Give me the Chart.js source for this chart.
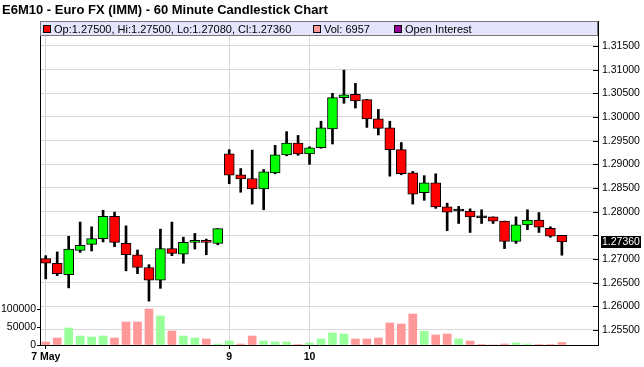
<!DOCTYPE html>
<html>
<head>
<meta charset="utf-8">
<script src="https://cdn.jsdelivr.net/npm/chart.js@4.4.1/dist/chart.umd.min.js"></script>
<style>
  html, body { margin: 0; padding: 0; background: #fff; }
  #wrap { width: 644px; height: 367px; }
</style>
</head>
<body>
<div id="wrap"><canvas id="chart" width="644" height="367"></canvas></div>
<script>
// 60 minute bars, 7 May .. 10 May 2010
const opens = [1.2701, 1.2691, 1.2667, 1.2718, 1.2731, 1.2743, 1.2790, 1.2733, 1.2709, 1.2682,
  1.2655, 1.2722, 1.2710, 1.2735, 1.2738, 1.2733, 1.2922, 1.2878, 1.2870, 1.2848,
  1.2882, 1.2920, 1.2945, 1.2922, 1.2935, 1.2975, 1.3041, 1.3048, 1.3037, 1.2996,
  1.2977, 1.2931, 1.2882, 1.2840, 1.2861, 1.2810, 1.2801, 1.2801, 1.2787, 1.2789,
  1.2780, 1.2737, 1.2772, 1.2782, 1.2765, 1.2750];
const highs = [1.2707, 1.2715, 1.2748, 1.2778, 1.2768, 1.2803, 1.2799, 1.2770, 1.2719, 1.2688,
  1.2763, 1.2778, 1.2746, 1.2754, 1.2742, 1.2764, 1.2931, 1.2891, 1.2930, 1.2889,
  1.2940, 1.2969, 1.2961, 1.2937, 1.2991, 1.3050, 1.3099, 1.3071, 1.3037, 1.3016,
  1.2991, 1.2946, 1.2885, 1.2876, 1.2880, 1.2818, 1.2811, 1.2806, 1.2804, 1.2789,
  1.2780, 1.2789, 1.2804, 1.2798, 1.2768, 1.2750];
const lows = [1.2658, 1.2665, 1.2639, 1.2714, 1.2717, 1.2736, 1.2726, 1.2675, 1.2669, 1.2611,
  1.2638, 1.2707, 1.2691, 1.2721, 1.2709, 1.2730, 1.2859, 1.2841, 1.2816, 1.2804,
  1.2880, 1.2918, 1.2919, 1.2900, 1.2934, 1.2943, 1.3029, 1.3019, 1.2978, 1.2962,
  1.2875, 1.2878, 1.2816, 1.2824, 1.2807, 1.2760, 1.2775, 1.2756, 1.2775, 1.2775,
  1.2722, 1.2733, 1.2762, 1.2756, 1.2746, 1.2708];
const closes = [1.2691, 1.2669, 1.2721, 1.2729, 1.2743, 1.2790, 1.2735, 1.2709, 1.2682, 1.2655,
  1.2722, 1.2712, 1.2735, 1.2739, 1.2735, 1.2764, 1.2877, 1.2869, 1.2848, 1.2884,
  1.2920, 1.2945, 1.2922, 1.2935, 1.2977, 1.3041, 1.3047, 1.3034, 1.2996, 1.2976,
  1.2931, 1.2880, 1.2837, 1.2861, 1.2810, 1.2799, 1.2801, 1.2789, 1.2787, 1.2780,
  1.2737, 1.2772, 1.2782, 1.2767, 1.2748, 1.2736];
const volumes = [8300, 19400, 47200, 25000, 22200, 25000, 19400, 63900, 63900, 100000,
  80600, 38900, 25000, 19400, 16700, 2800, 11100, 2800, 25000, 11100,
  8300, 8300, 1500, 5600, 16700, 33300, 30600, 16700, 16700, 19400,
  61100, 58300, 86100, 38000, 27800, 30600, 16700, 11100, 1500, 0,
  2800, 5600, 2800, 1500, 1500, 6957];

const dayTicks = [0, 16, 23];
const dayLabels = ['7 May', '9', '10'];
const priceTicks = [1.255, 1.26, 1.265, 1.27, 1.275, 1.28, 1.285, 1.29, 1.295, 1.30, 1.305, 1.31, 1.315];
const volTicks = [0, 50000, 100000];

const titleText = 'E6M10 - Euro FX (IMM) - 60 Minute Candlestick Chart';
const FONT = '"Liberation Sans", Arial, sans-serif';

const idx = opens.map((_, i) => i);
const last = idx.length - 1;
const bodyColors = idx.map(i => closes[i] > opens[i] ? '#00ff00' : (closes[i] < opens[i] ? '#ff0000' : '#000000'));
const volColors = idx.map(i => (i > 0 && closes[i] >= closes[i - 1]) ? '#99ff99' : '#ff9999');

Chart.defaults.font.family = FONT;
Chart.defaults.color = '#000';

const overlay = {
  id: 'overlay',
  afterDraw(chart) {
    const { ctx, chartArea } = chart;
    const price = chart.scales.price;
    ctx.save();

    // title
    ctx.font = 'bold 13px ' + FONT;
    ctx.fillStyle = '#000';
    ctx.textBaseline = 'alphabetic';
    ctx.fillText(titleText, 2, 14);

    // little tick marks inside the right axis
    ctx.strokeStyle = '#000';
    ctx.lineWidth = 1;
    priceTicks.forEach(v => {
      const y = Math.round(price.getPixelForValue(v)) + 0.5;
      ctx.beginPath();
      ctx.moveTo(chartArea.right - 5, y);
      ctx.lineTo(chartArea.right, y);
      ctx.stroke();
    });

    // legend strip
    const top = chartArea.top;
    ctx.fillStyle = '#e4e4fc';
    ctx.fillRect(chartArea.left, top, chartArea.right - chartArea.left, 15);
    ctx.strokeStyle = '#777';
    ctx.strokeRect(chartArea.left + 0.5, top + 0.5, chartArea.right - chartArea.left - 1, 14);

    const items = [
      { color: '#ff0000', text: 'Op:' + opens[last].toFixed(5) + ', Hi:' + highs[last].toFixed(5) +
        ', Lo:' + lows[last].toFixed(5) + ', Cl:' + closes[last].toFixed(5), x: chartArea.left + 3 },
      { color: '#ff9999', text: 'Vol: ' + volumes[last], x: 313 },
      { color: '#990099', text: 'Open Interest', x: 394 }
    ];
    ctx.font = '11px ' + FONT;
    ctx.textBaseline = 'middle';
    items.forEach(it => {
      ctx.fillStyle = it.color;
      ctx.fillRect(it.x, top + 4, 8, 8);
      ctx.strokeStyle = '#000';
      ctx.strokeRect(it.x + 0.5, top + 4.5, 7, 7);
      ctx.fillStyle = '#000';
      ctx.fillText(it.text, it.x + 11, top + 8.5);
    });

    // last price tag
    const ty = Math.round(price.getPixelForValue(closes[last]));
    ctx.fillStyle = '#000';
    ctx.fillRect(chartArea.right + 3, ty - 6, 40, 12);
    ctx.fillStyle = '#fff';
    ctx.font = '10.5px ' + FONT;
    ctx.fillText(closes[last].toFixed(5), chartArea.right + 4, ty + 0.5);

    ctx.restore();
  }
};

new Chart(document.getElementById('chart'), {
  type: 'bar',
  data: {
    datasets: [
      {
        label: 'body',
        data: idx.map(i => ({ x: i, y: [opens[i], closes[i]] })),
        backgroundColor: bodyColors,
        borderColor: '#000',
        borderWidth: 1,
        borderSkipped: false,
        barThickness: 10,
        minBarLength: 2,
        grouped: false,
        yAxisID: 'price',
        order: 0
      },
      {
        label: 'wick',
        data: idx.map(i => ({ x: i, y: [lows[i], highs[i]] })),
        backgroundColor: '#000',
        barThickness: 2,
        grouped: false,
        yAxisID: 'price',
        order: 1
      },
      {
        label: 'volume',
        data: idx.map(i => ({ x: i, y: volumes[i] })),
        backgroundColor: volColors,
        barThickness: 8,
        grouped: false,
        yAxisID: 'vol',
        order: 2
      }
    ]
  },
  options: {
    responsive: false,
    animation: false,
    devicePixelRatio: 1,
    layout: { padding: { top: 21, left: 0, right: 0, bottom: 0 } },
    plugins: { legend: { display: false }, tooltip: { enabled: false } },
    scales: {
      x: {
        type: 'linear',
        offset: false,
        min: -0.5,
        max: 48.15,
        afterBuildTicks: s => { s.ticks = dayTicks.map(v => ({ value: v })); },
        afterFit: s => { s.height = 22; },
        ticks: {
          autoSkip: false,
          maxRotation: 0,
          padding: 2,
          font: { size: 10.5, weight: 'bold' },
          callback: v => dayLabels[dayTicks.indexOf(v)]
        },
        grid: { offset: false, color: '#d8d8d8', tickColor: '#000', tickLength: 4 },
        border: { color: '#000' }
      },
      price: {
        type: 'linear',
        position: 'right',
        min: 1.25183,
        max: 1.32028,
        afterBuildTicks: s => { s.ticks = priceTicks.map(v => ({ value: v })); },
        afterFit: s => { s.width = 46; },
        ticks: {
          padding: 4,
          font: { size: 10.5 },
          callback: v => Math.abs(v - closes[last]) < 0.002 ? '' : v.toFixed(5)
        },
        grid: { color: '#d8d8d8', drawTicks: false },
        border: { color: '#000' }
      },
      vol: {
        type: 'linear',
        position: 'left',
        min: 0,
        max: 900000,
        afterBuildTicks: s => { s.ticks = volTicks.map(v => ({ value: v })); },
        afterFit: s => { s.width = 40; },
        ticks: { padding: 1, font: { size: 10.5 }, callback: v => String(v) },
        grid: { drawOnChartArea: false, tickColor: '#000', tickLength: 3 },
        border: { color: '#000' }
      }
    }
  },
  plugins: [overlay]
});
</script>
</body>
</html>
